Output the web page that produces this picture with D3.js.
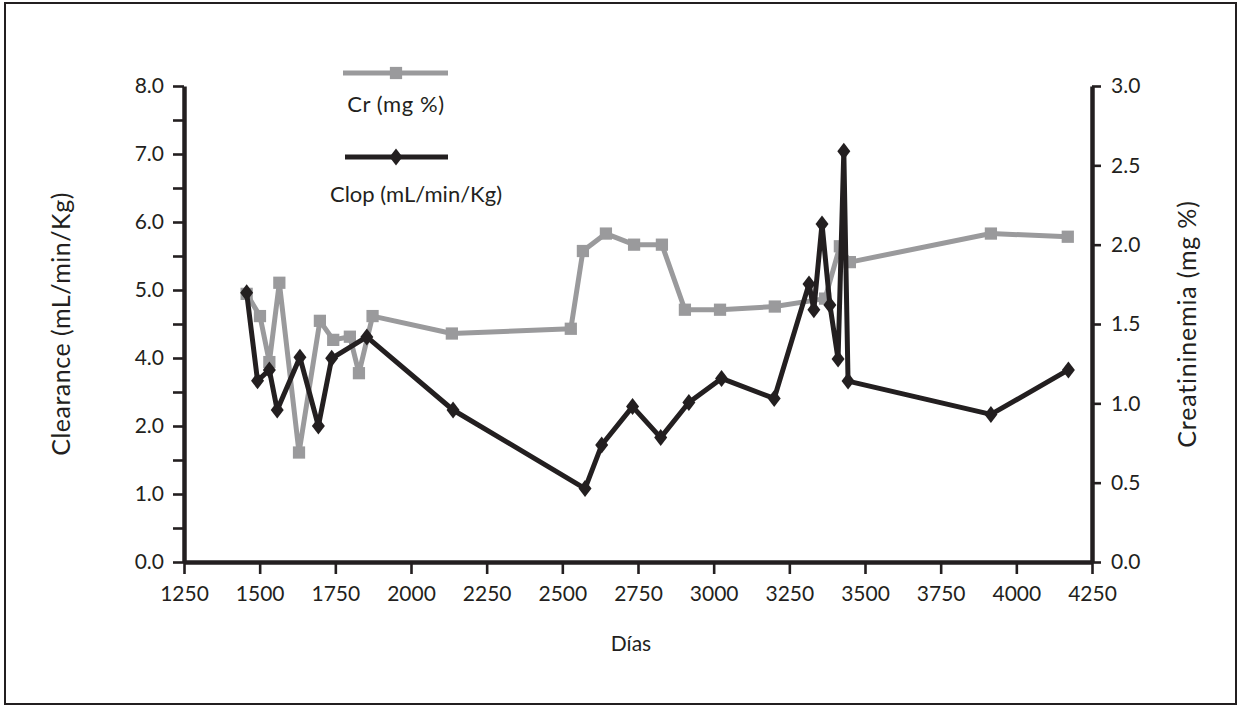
<!DOCTYPE html>
<html>
<head>
<meta charset="utf-8">
<script src="https://cdn.jsdelivr.net/npm/d3@7"></script>
<style>
  body { margin: 0; background: #fff; }
  text { font-family: Lato, "Open Sans", sans-serif; fill: #231f20; }
</style>
</head>
<body>
<div id="chart"></div>
<script>
// Cr (mg %) - right axis
const crDays = [1457, 1501, 1532, 1565, 1630, 1699, 1743, 1798, 1828, 1873, 2135, 2528, 2568, 2644, 2737, 2829, 2905, 3021, 3202, 3368, 3417, 3450, 3916, 4170];
const crValues = [1.69, 1.55, 1.26, 1.76, 0.69, 1.52, 1.40, 1.42, 1.19, 1.55, 1.44, 1.47, 1.96, 2.07, 2.00, 2.00, 1.59, 1.59, 1.61, 1.66, 1.99, 1.89, 2.07, 2.05];

// Clop (mL/min/Kg) - left axis
const clopDays = [1457, 1493, 1532, 1558, 1633, 1694, 1738, 1854, 2139, 2575, 2630, 2732, 2825, 2918, 3026, 3200, 3315, 3331, 3358, 3384, 3411, 3430, 3444, 3916, 4172];
const clopValues = [4.96, 3.33, 3.65, 2.47, 4.01, 2.0, 3.99, 4.31, 2.47, 1.08, 1.72, 2.57, 1.83, 2.69, 3.40, 2.81, 5.09, 4.71, 5.97, 4.78, 3.97, 7.04, 3.32, 2.34, 3.65];

// tick labels
const xTicks = [1250, 1500, 1750, 2000, 2250, 2500, 2750, 3000, 3250, 3500, 3750, 4000, 4250];
const leftTicks = [0, 1, 2, 4, 5, 6, 7, 8];   // the chart skips 3.0
const leftMinor = [0.5, 1.5, 3, 4.5, 5.5, 6.5, 7.5];
const rightTicks = [0, 0.5, 1, 1.5, 2, 2.5, 3];

const W = 1240, H = 708;
const plotL = 184, plotR = 1092, plotT = 86, plotB = 562;
const ink = "#231f20", gray = "#9a9a9c";

const svg = d3.select("#chart").append("svg")
  .attr("width", W).attr("height", H);

// outer frame
svg.append("rect")
  .attr("x", 5).attr("y", 3).attr("width", 1231).attr("height", 701)
  .attr("fill", "none").attr("stroke", ink).attr("stroke-width", 2);

const x = d3.scaleLinear().domain([1250, 4250]).range([plotL, plotR]);

// left axis: equally spaced labels, so use a piecewise scale
const yL = d3.scaleLinear()
  .domain(leftTicks)
  .range(leftTicks.map((d, i) => plotB - i * (plotB - plotT) / (leftTicks.length - 1)));

const yR = d3.scaleLinear().domain([0, 3]).range([plotB, plotT]);

function styleAxis(g) {
  g.select(".domain").attr("stroke", ink).attr("stroke-width", 4.5);
  g.selectAll(".tick line").attr("stroke", ink).attr("stroke-width", 2.6);
  g.selectAll(".tick text").style("font-size", "21px").attr("fill", ink)
    .style("font-family", "Lato, sans-serif");
}

// x axis
const gx = svg.append("g")
  .attr("transform", `translate(0,${plotB})`)
  .call(d3.axisBottom(x).tickValues(xTicks).tickFormat(d3.format("d"))
    .tickSize(12).tickSizeOuter(0).tickPadding(12));
styleAxis(gx);

// left axis
const gl = svg.append("g")
  .attr("transform", `translate(${plotL},0)`)
  .call(d3.axisLeft(yL).tickValues(leftTicks).tickFormat(d3.format(".1f"))
    .tickSize(11).tickSizeOuter(0).tickPadding(9));
styleAxis(gl);
const glm = svg.append("g")
  .attr("transform", `translate(${plotL},0)`)
  .call(d3.axisLeft(yL).tickValues(leftMinor).tickFormat("").tickSize(11).tickSizeOuter(0));
glm.select(".domain").remove();
glm.selectAll(".tick line").attr("stroke", ink).attr("stroke-width", 2.6);

// right axis
const gr = svg.append("g")
  .attr("transform", `translate(${plotR},0)`)
  .call(d3.axisRight(yR).tickValues(rightTicks).tickFormat(d3.format(".1f"))
    .tickSize(9).tickSizeOuter(0).tickPadding(10));
styleAxis(gr);

// axis titles
svg.append("text")
  .attr("transform", `translate(70,${(plotT + plotB) / 2}) rotate(-90)`)
  .attr("text-anchor", "middle")
  .style("font-size", "25px")
  .style("letter-spacing", "0.5px")
  .text("Clearance (mL/min/Kg)");

svg.append("text")
  .attr("transform", `translate(1196,${(plotT + plotB) / 2}) rotate(-90)`)
  .attr("text-anchor", "middle")
  .style("font-size", "25px")
  .style("letter-spacing", "0.8px")
  .text("Creatininemia (mg %)");

svg.append("text")
  .attr("x", 631).attr("y", 651)
  .attr("text-anchor", "middle")
  .style("font-size", "21px")
  .text("Días");

// series
const crData = crDays.map((d, i) => [d, crValues[i]]);
const clopData = clopDays.map((d, i) => [d, clopValues[i]]);

const crLine = d3.line().x(d => x(d[0])).y(d => yR(d[1]));
const clopLine = d3.line().x(d => x(d[0])).y(d => yL(d[1]));

const square = d3.symbol().type(d3.symbolSquare).size(150);
const diamond = "M0,-8.5L6.5,0L0,8.5L-6.5,0Z";

svg.append("path")
  .attr("d", crLine(crData))
  .attr("fill", "none").attr("stroke", gray).attr("stroke-width", 5)
  .attr("stroke-linejoin", "round");

svg.selectAll(".cr-pt")
  .data(crData)
  .enter()
  .append("path")
  .attr("class", "cr-pt")
  .attr("d", square)
  .attr("transform", d => `translate(${x(d[0])},${yR(d[1])})`)
  .attr("fill", gray);

svg.append("path")
  .attr("d", clopLine(clopData))
  .attr("fill", "none").attr("stroke", ink).attr("stroke-width", 5)
  .attr("stroke-linejoin", "round");

svg.selectAll(".clop-pt")
  .data(clopData)
  .enter()
  .append("path")
  .attr("class", "clop-pt")
  .attr("d", diamond)
  .attr("transform", d => `translate(${x(d[0])},${yL(d[1])})`)
  .attr("fill", ink);

// legend
const legend = svg.append("g");
legend.append("line")
  .attr("x1", 343).attr("x2", 448).attr("y1", 73).attr("y2", 73)
  .attr("stroke", gray).attr("stroke-width", 5);
legend.append("path").attr("d", square)
  .attr("transform", "translate(396,73)").attr("fill", gray);
legend.append("text")
  .attr("x", 396).attr("y", 112).attr("text-anchor", "middle")
  .style("font-size", "22px").style("letter-spacing", "0.6px").text("Cr (mg %)");

legend.append("line")
  .attr("x1", 345).attr("x2", 448).attr("y1", 157).attr("y2", 157)
  .attr("stroke", ink).attr("stroke-width", 5);
legend.append("path").attr("d", diamond)
  .attr("transform", "translate(396,157)").attr("fill", ink);
legend.append("text")
  .attr("x", 416).attr("y", 202).attr("text-anchor", "middle")
  .style("font-size", "22px").text("Clop (mL/min/Kg)");
</script>
</body>
</html>
